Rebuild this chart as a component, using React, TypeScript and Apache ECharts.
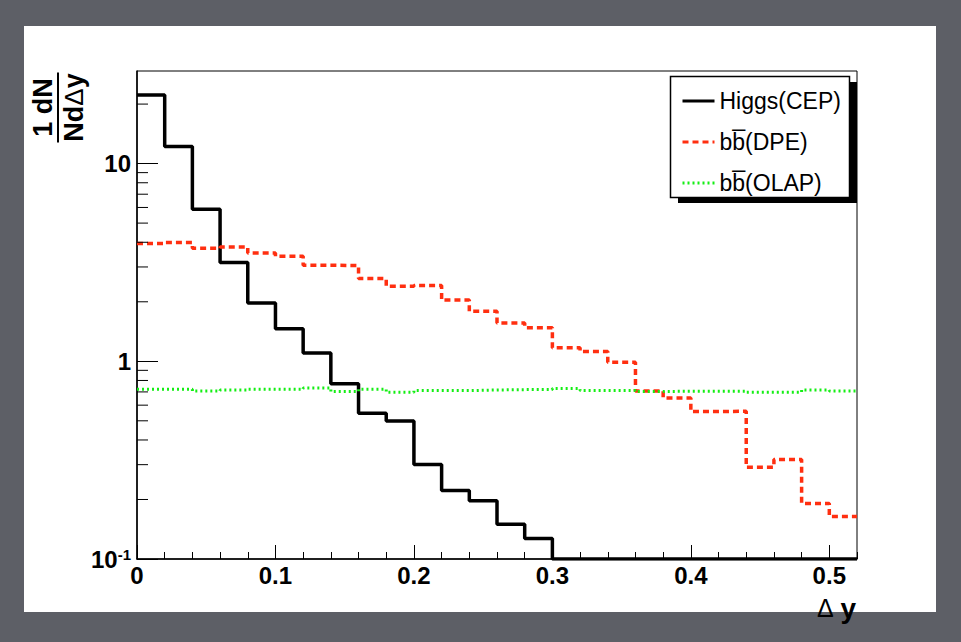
import React, { useEffect, useRef } from "react";
import * as echarts from "echarts";

// Bin edges of the Δy histograms (bin width 0.02)
const binEdges = [
  0, 0.02, 0.04, 0.06, 0.08, 0.1, 0.12, 0.14, 0.16, 0.18, 0.2, 0.22, 0.24,
  0.26, 0.28, 0.3, 0.32, 0.34, 0.36, 0.38, 0.4, 0.42, 0.44, 0.46, 0.48, 0.5,
  0.52,
];

// 1/N dN/dΔy per bin
const higgsCEP = [
  22.2, 12.2, 5.87, 3.16, 1.97, 1.46, 1.1, 0.771, 0.546, 0.499, 0.301, 0.222,
  0.197, 0.15, 0.127, 0, 0, 0, 0, 0, 0, 0, 0, 0, 0, 0,
];
const bbDPE = [
  3.94, 3.99, 3.73, 3.79, 3.53, 3.4, 3.06, 3.05, 2.62, 2.4, 2.42, 2.04, 1.79,
  1.56, 1.48, 1.17, 1.12, 0.988, 0.708, 0.652, 0.557, 0.559, 0.291, 0.319,
  0.191, 0.164,
];
const bbOLAP = [
  0.722, 0.722, 0.708, 0.716, 0.722, 0.722, 0.733, 0.703, 0.722, 0.697, 0.711,
  0.711, 0.716, 0.719, 0.719, 0.728, 0.711, 0.711, 0.704, 0.705, 0.705, 0.705,
  0.697, 0.697, 0.716, 0.708,
];

const seriesNames = ["Higgs(CEP)", "bb\u0305(DPE)", "bb\u0305(OLAP)"];

const yMin = 0.1;
const yMax = 29.4;
const xMin = 0;
const xMax = 0.52;
const yMinorTicks = [
  0.2, 0.3, 0.4, 0.5, 0.6, 0.7, 0.8, 0.9, 2, 3, 4, 5, 6, 7, 8, 9, 20,
];

const FONT = '"Liberation Sans", Arial, Helvetica, sans-serif';

function histPoints(vals: number[]) {
  const pts = vals.map((v, i) => [binEdges[i], Math.max(v, yMin)]);
  pts.push([binEdges[vals.length], Math.max(vals[vals.length - 1], yMin)]);
  return pts;
}

export default function App() {
  const ref = useRef<HTMLDivElement>(null);

  useEffect(() => {
    if (!ref.current) return;
    const chart = echarts.init(ref.current, undefined, { renderer: "svg" });

    const option: any = {
      animation: false,
      backgroundColor: "#5d5f66",
      grid: {
        left: 137,
        top: 71,
        right: 104,
        bottom: 83,
        show: true,
        borderColor: "#000",
        borderWidth: 1,
        backgroundColor: "transparent",
        containLabel: false,
      },
      legend: {
        orient: "vertical",
        left: 676,
        top: 84,
        itemWidth: 32,
        itemHeight: 14,
        itemGap: 17,
        selectedMode: false,
        z: 10,
        itemStyle: { opacity: 0, borderWidth: 0 },
        lineStyle: { width: 3 },
        textStyle: {
          fontSize: 23,
          lineHeight: 24,
          fontFamily: FONT,
          color: "#000",
        },
        data: seriesNames,
      },
      xAxis: [
        {
          type: "value",
          min: xMin,
          max: xMax,
          interval: 0.1,
          position: "bottom",
          name: "{d|Δ}  {y|y}",
          nameLocation: "end",
          nameGap: 0,
          nameTextStyle: {
            align: "right",
            verticalAlign: "top",
            padding: [35, 1, 0, 0],
            rich: {
              d: { fontSize: 25, fontFamily: FONT, color: "#000" },
              y: {
                fontSize: 28,
                fontWeight: "bold",
                fontFamily: FONT,
                color: "#000",
              },
            },
          },
          axisLine: { show: true, lineStyle: { color: "#000", width: 1.5 } },
          axisTick: {
            show: true,
            inside: true,
            length: 14,
            lineStyle: { color: "#000", width: 1 },
          },
          axisLabel: {
            show: true,
            margin: 4,
            fontSize: 24,
            fontWeight: "bold",
            fontFamily: FONT,
            color: "#000",
            showMaxLabel: false,
            formatter: (v: number) => {
              const r = Math.round(v * 10) / 10;
              if (Math.abs(v - r) > 1e-6) return "";
              return r === 0 ? "0" : String(r);
            },
          },
          splitLine: { show: false },
        },
        {
          type: "value",
          min: xMin,
          max: xMax,
          interval: 0.02,
          position: "bottom",
          axisLine: { show: false },
          axisLabel: { show: false },
          splitLine: { show: false },
          axisTick: {
            show: true,
            inside: true,
            length: 7,
            lineStyle: { color: "#000", width: 1 },
          },
        },
      ],
      yAxis: {
        type: "log",
        logBase: 10,
        min: yMin,
        max: yMax,
        axisLine: { show: true, lineStyle: { color: "#000", width: 1.5 } },
        axisTick: {
          show: true,
          inside: true,
          length: 21,
          lineStyle: { color: "#000", width: 1 },
        },
        splitLine: { show: false },
        axisLabel: {
          margin: 6,
          fontSize: 24,
          fontWeight: "bold",
          fontFamily: FONT,
          color: "#000",
          showMaxLabel: false,
          formatter: (v: number) => {
            const l = Math.log10(v);
            const r = Math.round(l);
            if (Math.abs(l - r) > 1e-6) return "";
            if (r === -1) return "{m|10}{s|-1}";
            if (r === 0) return "1";
            if (r === 1) return "10";
            return "";
          },
          rich: {
            m: {
              fontSize: 24,
              fontWeight: "bold",
              fontFamily: FONT,
              color: "#000",
            },
            s: {
              fontSize: 15,
              fontWeight: "bold",
              fontFamily: FONT,
              color: "#000",
              verticalAlign: "top",
            },
          },
        },
      },
      graphic: [
        {
          type: "rect",
          z: -100,
          shape: { x: 24, y: 26, width: 912, height: 586 },
          style: { fill: "#ffffff" },
        },
        {
          type: "rect",
          z: 8,
          shape: { x: 678, y: 82, width: 179, height: 121 },
          style: { fill: "#000" },
        },
        {
          type: "rect",
          z: 9,
          shape: { x: 670.5, y: 76.5, width: 179, height: 121 },
          style: { fill: "#fff", stroke: "#000", lineWidth: 1.5 },
        },
        {
          type: "group",
          x: 58,
          y: 107.5,
          rotation: Math.PI / 2,
          z: 10,
          children: [
            {
              type: "text",
              x: 0,
              y: -2,
              style: {
                text: "1 dN",
                fontSize: 27,
                fontWeight: "bold",
                fontFamily: FONT,
                fill: "#000",
                align: "center",
                textAlign: "center",
                verticalAlign: "bottom",
                textVerticalAlign: "bottom",
              },
            },
            {
              type: "line",
              shape: { x1: -35, y1: 0, x2: 35, y2: 0 },
              style: { stroke: "#000", lineWidth: 2 },
            },
            {
              type: "text",
              x: 0,
              y: 2,
              style: {
                text: "{a|Nd}{b|Δ}{a|y}",
                align: "center",
                textAlign: "center",
                verticalAlign: "top",
                textVerticalAlign: "top",
                rich: {
                  a: {
                    fontSize: 27,
                    fontWeight: "bold",
                    fontFamily: FONT,
                    fill: "#000",
                    color: "#000",
                  },
                  b: {
                    fontSize: 26,
                    fontFamily: FONT,
                    fill: "#000",
                    color: "#000",
                  },
                },
              },
            },
          ],
        },
      ],
      series: [
        {
          name: seriesNames[0],
          type: "line",
          step: "end",
          symbol: "none",
          data: histPoints(higgsCEP),
          lineStyle: { color: "#000", width: 3.5, type: "solid" },
          itemStyle: { color: "#000" },
          z: 3,
        },
        {
          name: seriesNames[1],
          type: "line",
          step: "end",
          symbol: "none",
          data: histPoints(bbDPE),
          lineStyle: { color: "#ff2f10", width: 3.5, type: [6, 4] },
          itemStyle: { color: "#ff2f10" },
          z: 4,
        },
        {
          name: seriesNames[2],
          type: "line",
          step: "end",
          symbol: "none",
          data: histPoints(bbOLAP),
          lineStyle: { color: "#14ee14", width: 3, type: [2, 3] },
          itemStyle: { color: "#14ee14" },
          z: 5,
        },
        {
          name: "yMinorTicks",
          type: "custom",
          silent: true,
          xAxisIndex: 0,
          yAxisIndex: 0,
          z: 6,
          data: yMinorTicks.map((v) => [xMin, v]),
          renderItem: (_params: any, api: any) => {
            const p = api.coord([xMin, api.value(1)]);
            return {
              type: "line",
              shape: { x1: p[0], y1: p[1], x2: p[0] + 11, y2: p[1] },
              style: { stroke: "#000", lineWidth: 1 },
            };
          },
        },
      ],
    };

    chart.setOption(option);
    return () => chart.dispose();
  }, []);

  return (
    <div
      ref={ref}
      style={{
        position: "absolute",
        left: 0,
        top: 0,
        width: 961,
        height: 642,
      }}
    />
  );
}
